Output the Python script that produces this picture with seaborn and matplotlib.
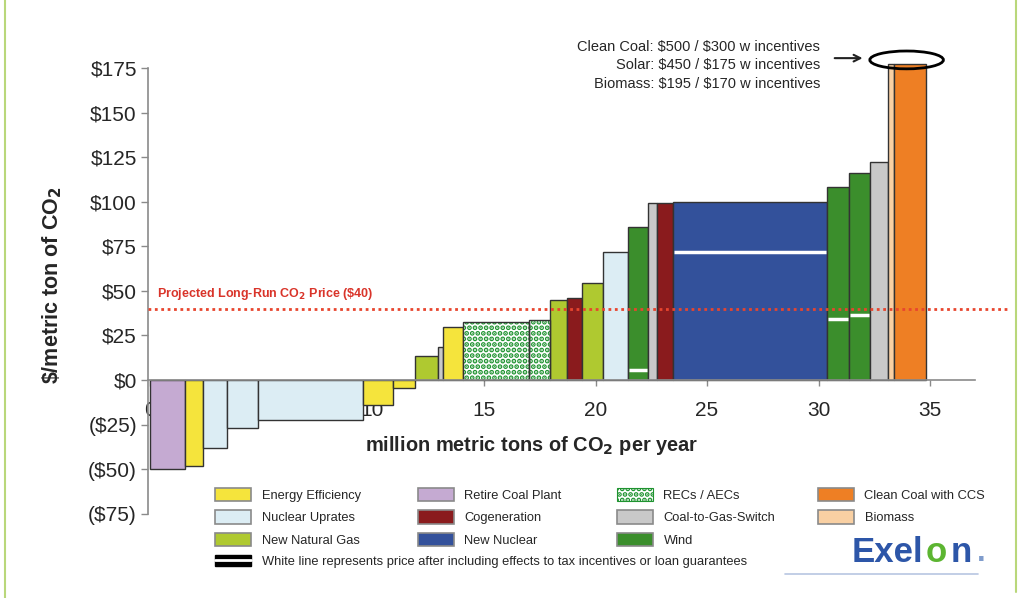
#Imports
import matplotlib
matplotlib.use("Agg")
import matplotlib.pyplot as plt
import seaborn as sns
from matplotlib.patches import Patch, Ellipse
from matplotlib.lines import Line2D

sns.set_theme(style="white")
plt.rcParams['font.family'] = ['Liberation Sans', 'DejaVu Sans']
plt.rcParams['mathtext.default'] = 'bf'
plt.rcParams['hatch.linewidth'] = 2.5

#Data: each block of the abatement curve (left edge, right edge, $/ton, technology, price w/ incentives)
left = [0.0, 1.59, 2.40, 3.48, 4.87, 9.57, 10.92, 11.91, 12.94, 13.16, 14.06, 17.0, 17.96, 18.7,
        19.39, 20.34, 21.46, 22.35, 22.75, 23.48, 30.38, 31.36, 32.3, 33.1, 33.38]
right = [1.59, 2.40, 3.48, 4.87, 9.57, 10.92, 11.91, 12.94, 13.16, 14.06, 17.0, 17.96, 18.7, 19.39,
         20.34, 21.46, 22.35, 22.75, 23.48, 30.38, 31.36, 32.3, 33.1, 33.38, 34.8]
price = [-50, -48, -38, -27, -22.5, -14, -4.5, 13.5, 18.5, 30, 32.5, 33.5, 45, 46,
         54.5, 72, 86, 99, 99, 100, 108, 116, 122, 177, 177]
tech = ['Retire Coal Plant', 'Energy Efficiency', 'Nuclear Uprates', 'Nuclear Uprates', 'Nuclear Uprates',
        'Energy Efficiency', 'Energy Efficiency', 'New Natural Gas', 'Coal-to-Gas-Switch', 'Energy Efficiency',
        'RECs / AECs', 'RECs / AECs', 'New Natural Gas', 'Cogeneration', 'New Natural Gas', 'Nuclear Uprates',
        'Wind', 'Coal-to-Gas-Switch', 'Cogeneration', 'New Nuclear', 'Wind', 'Wind', 'Coal-to-Gas-Switch',
        'Biomass', 'Clean Coal with CCS']
incentive = [None] * 16 + [5.5, None, None, 72, 34, 36.5, None, None, None]

yticks = [-75, -50, -25, 0, 25, 50, 75, 100, 125, 150, 175]
ytick_labels = ['($75)', '($50)', '($25)', '$0', '$25', '$50', '$75', '$100', '$125', '$150', '$175']
xticks = [0, 5, 10, 15, 20, 25, 30, 35]
carbon_price = 40

legend_cols = [['Energy Efficiency', 'Nuclear Uprates', 'New Natural Gas'],
               ['Retire Coal Plant', 'Cogeneration', 'New Nuclear'],
               ['RECs / AECs', 'Coal-to-Gas-Switch', 'Wind'],
               ['Clean Coal with CCS', 'Biomass']]
callout = ['Clean Coal: $500 / $300 w incentives',
           'Solar: $450 / $175 w incentives',
           'Biomass: $195 / $170 w incentives']

colors = {'Energy Efficiency': '#f5e43c', 'Nuclear Uprates': '#dcedf4', 'New Natural Gas': '#afc930',
          'Retire Coal Plant': '#c5aad2', 'Cogeneration': '#8a1b1d', 'New Nuclear': '#33519b',
          'RECs / AECs': '#ffffff', 'Coal-to-Gas-Switch': '#c9c9c9', 'Wind': '#3b8e2c',
          'Clean Coal with CCS': '#ee7f24', 'Biomass': '#f9d0a3'}
rec_green = '#1f9330'
rec_hatch = '...'

#Figure + axes placed so data units match the original layout
fig = plt.figure(figsize=(10.2, 5.98), dpi=100)
ax = fig.add_axes([148 / 1020, 0.1319, (1010.3 - 148) / 1020, 0.7843])
ax.set_xlim(-0.07, 38.6)
ax.set_ylim(-78, 185)
ax.set_axisbelow(True)

for l, r, p, t in zip(left, right, price, tech):
    if t == 'RECs / AECs':
        ax.bar(l, p, width=r - l, align='edge', color='white', hatch=rec_hatch, edgecolor=rec_green, lw=0, zorder=1)
        ax.bar(l, p, width=r - l, align='edge', fill=False, edgecolor='#333333', lw=1, zorder=1.1)
    else:
        ax.bar(l, p, width=r - l, align='edge', color=colors[t], edgecolor='#333333', lw=1, zorder=1)

#White lines = price after incentives
for l, r, inc in zip(left, right, incentive):
    if inc is not None:
        ax.hlines(inc, l + 0.05, r - 0.05, color='white', lw=2.5, zorder=3)

#Projected CO2 price
ax.axhline(carbon_price, color='#e8452e', lw=2, ls=(0, (1, 1.3)), zorder=3)
ax.text(0.35, carbon_price + 3.5, 'Projected Long-Run CO$_2$ Price (\\$40)', color='#d9342a',
        fontsize=9, fontweight='bold', va='bottom', ha='left', zorder=4)

#Axes styling
for s in ['top', 'right']:
    ax.spines[s].set_visible(False)
ax.spines['left'].set_bounds(-75, 175)
ax.spines['bottom'].set_position(('data', 0))
ax.spines['bottom'].set_bounds(-0.07, 37)
for s in ['left', 'bottom']:
    ax.spines[s].set_color('#8a8a8a')
    ax.spines[s].set_linewidth(1.2)
ax.set_yticks(yticks)
ax.set_yticklabels(ytick_labels, fontsize=15)
ax.set_xticks(xticks)
ax.set_xticklabels([str(x) for x in xticks], fontsize=15)
ax.tick_params(axis='y', length=5, width=1, color='#8a8a8a', pad=3, left=True)
ax.tick_params(axis='x', length=4, width=1, color='#8a8a8a', pad=11, bottom=True)

ax.text(17.15, -36.5, 'million metric tons of CO$_2$ per year', fontsize=14.4, fontweight='bold',
        ha='center', va='center')
fig.text(52 / 1020, 1 - 285 / 598, '\\$/metric ton of CO$_2$', fontsize=15.5, fontweight='bold',
         rotation=90, ha='center', va='center')

#Call-out for off-the-chart costs
for i, line in enumerate(callout):
    fig.text(820 / 1020, 1 - (47 + 18.5 * i) / 598, line.replace('$', '\\$'), fontsize=10.5,
             ha='right', va='center')
ax.add_patch(Ellipse((33.95, 179.5), 3.3, 10, fill=False, edgecolor='black', lw=2, clip_on=False, zorder=5))
ax.annotate('', xy=(32.1, 180.5), xytext=(30.6, 180.5),
            arrowprops=dict(arrowstyle='->', color='#222222', lw=1.5), annotation_clip=False)

#Legend: four columns + the white-line note
col_x = [215, 418, 617, 818]
for cx, col in zip(col_x, legend_cols):
    handles = []
    for name in col:
        if name == 'RECs / AECs':
            handles.append(Patch(facecolor='white', edgecolor=rec_green, hatch=rec_hatch, lw=0.8, label=name))
        else:
            handles.append(Patch(facecolor=colors[name], edgecolor='#8a8a8a', lw=1.2, label=name))
    fig.legend(handles=handles, loc='upper left', bbox_to_anchor=(cx / 1020, 1 - 488 / 598),
               frameon=False, fontsize=9.3, handlelength=2.8, handleheight=1.2,
               handletextpad=0.8, labelspacing=0.65, borderpad=0, borderaxespad=0)
note = (Patch(facecolor='black', edgecolor='black'), Line2D([0], [0], color='white', lw=2))
fig.legend(handles=[note], labels=['White line represents price after including effects to tax incentives or loan guarantees'],
           loc='upper left', bbox_to_anchor=(215 / 1020, 1 - 555 / 598), frameon=False, fontsize=9.3,
           handlelength=2.8, handleheight=0.9, handletextpad=0.8, borderpad=0, borderaxespad=0)

#Exelon logo text
logo_y = 1 - 553 / 598
fig.text(852 / 1020, logo_y, 'Exel', fontsize=25, fontweight='bold', color='#2d56a8', va='center')
fig.text(926 / 1020, logo_y, 'o', fontsize=25, fontweight='bold', color='#5cb531', va='center')
fig.text(951 / 1020, logo_y, 'n', fontsize=25, fontweight='bold', color='#2d56a8', va='center')
fig.text(977 / 1020, logo_y, '.', fontsize=22, fontweight='bold', color='#7f9ccc', va='center')
fig.add_artist(Line2D([785 / 1020, 978 / 1020], [1 - 574 / 598] * 2, color='#b8c6e2', lw=1.2))

#Frame lines of the slide
fig.add_artist(Line2D([5 / 1020] * 2, [0, 1], color='#b9d77a', lw=1.5))
fig.add_artist(Line2D([1016 / 1020] * 2, [0.01, 1], color='#b9d77a', lw=1.5))

fig.savefig("out.png", dpi=100)
